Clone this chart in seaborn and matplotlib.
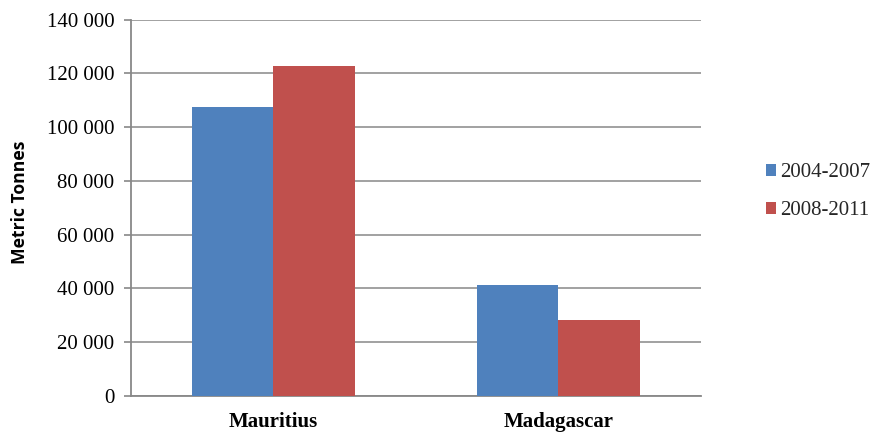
import matplotlib
matplotlib.use("Agg")
import matplotlib.pyplot as plt
import seaborn as sns
import pandas as pd
from matplotlib.ticker import FixedLocator

countries = ["Mauritius", "Madagascar"]
periods = ["2004-2007", "2008-2011"]
values_2004_2007 = [107350, 41200]
values_2008_2011 = [122700, 28200]
y_ticks = [0, 20000, 40000, 60000, 80000, 100000, 120000, 140000]
y_tick_labels = ["0", "20 000", "40 000", "60 000", "80 000", "100 000", "120 000", "140 000"]
colors = ["#4F81BD", "#C0504D"]

df = pd.DataFrame({
    "country": countries * 2,
    "period": [periods[0]] * 2 + [periods[1]] * 2,
    "value": values_2004_2007 + values_2008_2011,
})

sns.set_theme(style="white")
plt.rcParams["font.family"] = ["Liberation Serif", "DejaVu Sans"]

fig = plt.figure(figsize=(8.76, 4.33), dpi=100)
ax = fig.add_axes([0.1495, 0.0859, 0.6507, 0.869])

sns.barplot(data=df, x="country", y="value", hue="period", order=countries,
            hue_order=periods, palette=colors, width=0.572, linewidth=0,
            saturation=1, ax=ax, zorder=3)

ax.set_ylim(0, 140000)
ax.set_xlim(-0.5, 1.5)
ax.set_yticks(y_ticks)
ax.set_yticklabels(y_tick_labels, fontsize=15, color="black")
ax.yaxis.grid(True, color="#9a9a9a", linewidth=1.3, zorder=0)
ax.set_axisbelow(True)

ax.set_xticks(range(len(countries)))
ax.set_xticklabels(countries, fontsize=15, fontweight="bold", color="black")
ax.tick_params(axis="x", which="major", length=0, pad=12)
ax.xaxis.set_minor_locator(FixedLocator([-0.5, 0.5, 1.5]))
ax.tick_params(axis="x", which="minor", length=5, width=1.2, color="#888888", direction="out")
ax.tick_params(axis="y", which="major", length=5, width=1.2, color="#888888", direction="out", pad=7, left=True)

for s in ["top", "right"]:
    ax.spines[s].set_visible(False)
for s in ["left", "bottom"]:
    ax.spines[s].set_color("#888888")
    ax.spines[s].set_linewidth(1.3)

ax.set_xlabel("")
ax.set_ylabel("Metric Tonnes", fontsize=12.6, fontweight="bold", family=["Open Sans", "DejaVu Sans"],
              color="black")
ax.yaxis.set_label_coords(-0.178, 0.514)

handles, labels = ax.get_legend_handles_labels()
ax.legend(handles, labels, loc="center left", bbox_to_anchor=(0.874, 0.557),
          bbox_transform=fig.transFigure, frameon=False, fontsize=15,
          handlelength=0.48, handleheight=0.48, handletextpad=0.24, labelspacing=0.9,
          borderpad=0, borderaxespad=0)

fig.savefig("out.png", dpi=100)
